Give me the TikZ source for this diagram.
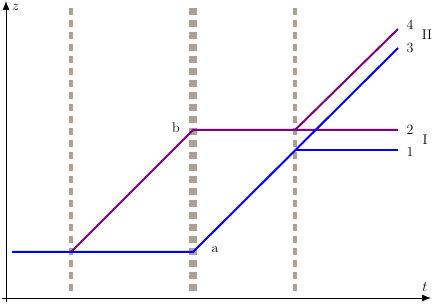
\documentclass[tikz,border=0pt]{standalone}
\usetikzlibrary{arrows.meta}
\definecolor{guide}{RGB}{172,160,150}
\definecolor{pathb}{RGB}{0,0,255}
\definecolor{pathp}{RGB}{128,0,128}
\begin{document}
\begin{tikzpicture}[x=1pt,y=-1pt,
  guidethin/.style={guide,line width=4pt,dash pattern=on 7pt off 5pt},
  guidethick/.style={guide,line width=7.5pt,dash pattern=on 7pt off 5pt},
  blueline/.style={pathb,line width=2pt},
  purpleline/.style={pathp,line width=2pt},
  axis/.style={black,line width=0.8pt,-{Latex[length=9pt,width=7pt]}},
  lab/.style={inner sep=0pt,font=\fontsize{14}{16}\selectfont}]
\useasboundingbox (0,0) rectangle (436,304);
% coordinates
\coordinate (xend) at (431,298);
\coordinate (yend) at (6,1);
\coordinate (xstart) at (2,298);
\coordinate (ystart) at (6,302);
\coordinate (g1t) at (71,8); \coordinate (g1b) at (71,294);
\coordinate (g2t) at (193,8); \coordinate (g2b) at (193,294);
\coordinate (g3t) at (295,8); \coordinate (g3b) at (295,294);
\coordinate (s) at (12,252);
\coordinate (p0) at (71,252);
\coordinate (a) at (193,252);
\coordinate (b) at (193,130);
\coordinate (c) at (295,150);
\coordinate (d) at (295,130);
\coordinate (e1) at (398,150);
\coordinate (e2) at (398,130);
\coordinate (e3) at (398,48);
\coordinate (e4) at (398,29);
% guides
\draw[guidethin] (g1t) -- (g1b);
\draw[guidethick] (g2t) -- (g2b);
\draw[guidethin] (g3t) -- (g3b);
% axes
\draw[axis] (xstart) -- (xend);
\draw[axis] (ystart) -- (yend);
\node[lab,anchor=west] (zl) at (12,7.5) {$z$};
\node[lab] (tl) at (425,287) {$t$};
% paths
\draw[purpleline] (p0) -- (b) -- (e2);
\draw[purpleline] (d) -- (e4);
\draw[blueline] (s) -- (a) -- (e3);
\draw[blueline] (c) -- (e1);
% labels
\node[lab] (l4) at (410,25) {4};
\node[lab] (l3) at (410,48) {3};
\node[lab] (l2) at (410,130) {2};
\node[lab] (l1) at (410,152) {1};
\node[lab] (lII) at (427,35) {II};
\node[lab] (lI) at (425,140) {I};
\node[lab] (lb) at (176,128) {b};
\node[lab] (la) at (215,249) {a};
\end{tikzpicture}
\end{document}
